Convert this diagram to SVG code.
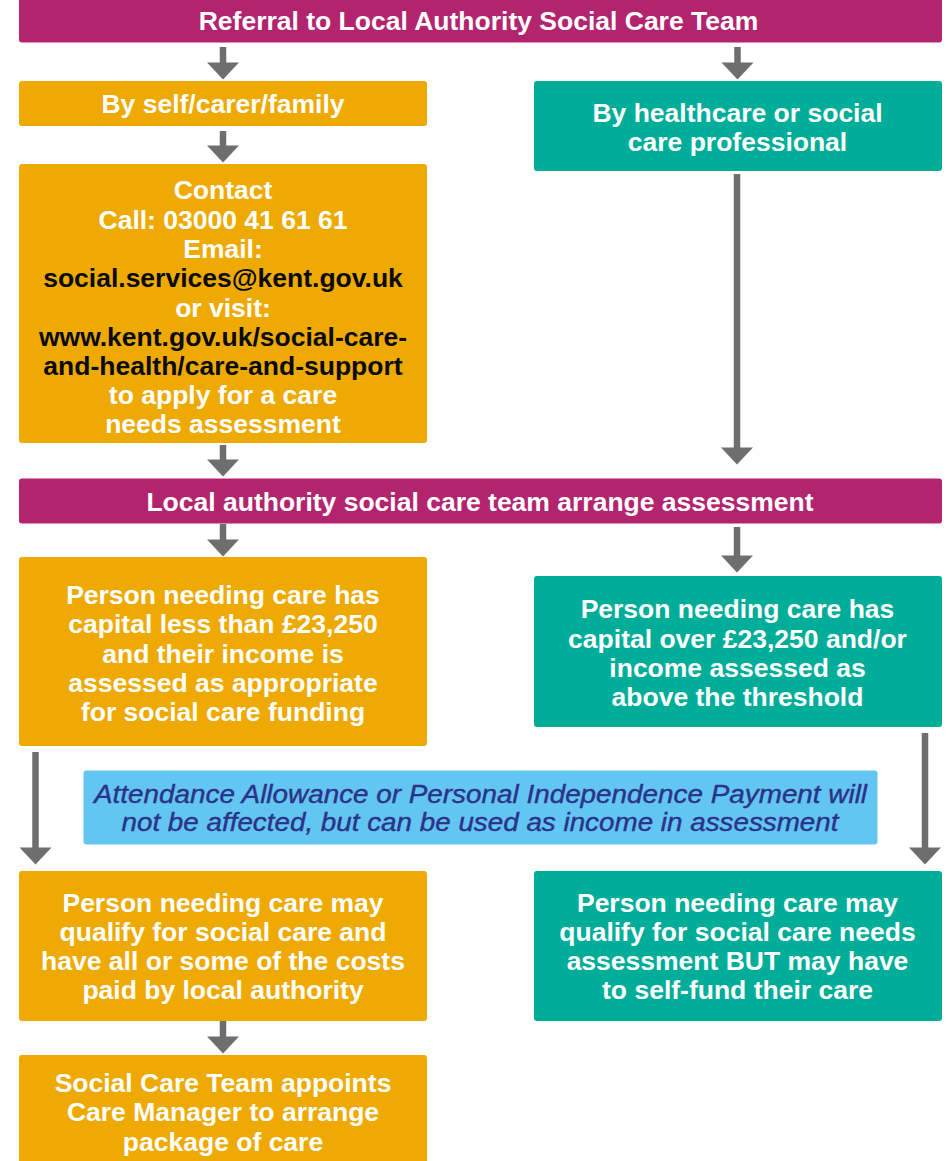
<svg xmlns="http://www.w3.org/2000/svg" width="948" height="1161" viewBox="0 0 948 1161">
<style>
.bar{fill:#B3246F}
.org{fill:#EEAA03}
.teal{fill:#00AD98}
.note{fill:#63C6F2}
.t{font-family:"Liberation Sans",Arial,Helvetica,sans-serif;font-weight:bold;font-size:26.5px;fill:#ffffff;text-anchor:middle}
.k{fill:#0a0a0a}
.n{font-family:"Liberation Sans",Arial,Helvetica,sans-serif;font-style:italic;font-size:26px;fill:#2B3389;stroke:#2B3389;stroke-width:0.4;text-anchor:middle}
.c{stroke:#6E6E6E;stroke-width:6.5;fill:none;marker-end:url(#ah)}
</style>
<defs>
<marker id="ah" markerUnits="userSpaceOnUse" markerWidth="18" markerHeight="34" viewBox="0 -17 18 34" refX="0.5" refY="0" orient="auto" overflow="visible">
<path d="M0,-16 L17,0 L0,16 z" fill="#6E6E6E"/>
</marker>
</defs>
<rect width="948" height="1161" fill="#ffffff"/>
<g id="connectors">
<line class="c" x1="223" y1="47" x2="223" y2="63"/>
<line class="c" x1="737.5" y1="47" x2="737.5" y2="63"/>
<line class="c" x1="223" y1="131" x2="223" y2="146"/>
<line class="c" x1="737" y1="174" x2="737" y2="448"/>
<line class="c" x1="223" y1="445" x2="223" y2="460"/>
<line class="c" x1="223" y1="524" x2="223" y2="540"/>
<line class="c" x1="737" y1="527" x2="737" y2="556"/>
<line class="c" x1="35.5" y1="752" x2="35.5" y2="848"/>
<line class="c" x1="925" y1="733" x2="925" y2="848"/>
<line class="c" x1="223" y1="1021" x2="223" y2="1037"/>
</g>
<g id="referral">
<rect class="bar" x="19" y="-6" width="923" height="48.5" rx="3"/>
<text class="t" x="478.5" y="29.5">Referral to Local Authority Social Care Team</text>
</g>
<g id="self">
<rect class="org" x="19" y="81" width="408" height="45" rx="3"/>
<text class="t" x="223" y="113">By self/carer/family</text>
</g>
<g id="professional">
<rect class="teal" x="534" y="81" width="408" height="90" rx="3"/>
<text class="t" x="737.5" y="121.5">By healthcare or social</text>
<text class="t" x="737.5" y="150.5">care professional</text>
</g>
<g id="contact">
<rect class="org" x="19" y="164" width="408" height="279" rx="3"/>
<text class="t" x="223" y="199">Contact</text>
<text class="t" x="223" y="228.5">Call: 03000 41 61 61</text>
<text class="t" x="223" y="258">Email:</text>
<text class="t k" x="223" y="287">social.services@kent.gov.uk</text>
<text class="t" x="223" y="316.5">or visit:</text>
<text class="t k" x="223" y="345.5">www.kent.gov.uk/social-care-</text>
<text class="t k" x="223" y="374.5">and-health/care-and-support</text>
<text class="t" x="223" y="404">to apply for a care</text>
<text class="t" x="223" y="433">needs assessment</text>
</g>
<g id="arrange">
<rect class="bar" x="19" y="478.5" width="923" height="45" rx="3"/>
<text class="t" x="480" y="510.5">Local authority social care team arrange assessment</text>
</g>
<g id="capital-less">
<rect class="org" x="19" y="557" width="408" height="189" rx="3"/>
<text class="t" x="223" y="604">Person needing care has</text>
<text class="t" x="223" y="633.3">capital less than £23,250</text>
<text class="t" x="223" y="662.5">and their income is</text>
<text class="t" x="223" y="691.7">assessed as appropriate</text>
<text class="t" x="223" y="720.8">for social care funding</text>
</g>
<g id="capital-over">
<rect class="teal" x="534" y="576" width="408" height="151" rx="3"/>
<text class="t" x="737.5" y="618.3">Person needing care has</text>
<text class="t" x="737.5" y="647.5">capital over £23,250 and/or</text>
<text class="t" x="737.5" y="676.8">income assessed as</text>
<text class="t" x="737.5" y="706">above the threshold</text>
</g>
<g id="note">
<rect class="note" x="83.5" y="770.5" width="794" height="74" rx="3"/>
<text class="n" x="480.5" y="802.5" textLength="773" lengthAdjust="spacingAndGlyphs">Attendance Allowance or Personal Independence Payment will</text>
<text class="n" x="480" y="830.5" textLength="717" lengthAdjust="spacingAndGlyphs">not be affected, but can be used as income in assessment</text>
</g>
<g id="qualify-la">
<rect class="org" x="19" y="871" width="408" height="150" rx="3"/>
<text class="t" x="223" y="911.7">Person needing care may</text>
<text class="t" x="223" y="941">qualify for social care and</text>
<text class="t" x="223" y="970.2">have all or some of the costs</text>
<text class="t" x="223" y="999.4">paid by local authority</text>
</g>
<g id="qualify-self">
<rect class="teal" x="534" y="871" width="408" height="150" rx="3"/>
<text class="t" x="737.5" y="911.7">Person needing care may</text>
<text class="t" x="737.5" y="941">qualify for social care needs</text>
<text class="t" x="737.5" y="970.2">assessment BUT may have</text>
<text class="t" x="737.5" y="999.4">to self-fund their care</text>
</g>
<g id="care-manager">
<rect class="org" x="19" y="1055" width="408" height="120" rx="3"/>
<text class="t" x="223" y="1092.3">Social Care Team appoints</text>
<text class="t" x="223" y="1121.3">Care Manager to arrange</text>
<text class="t" x="223" y="1150.7">package of care</text>
</g>
</svg>
